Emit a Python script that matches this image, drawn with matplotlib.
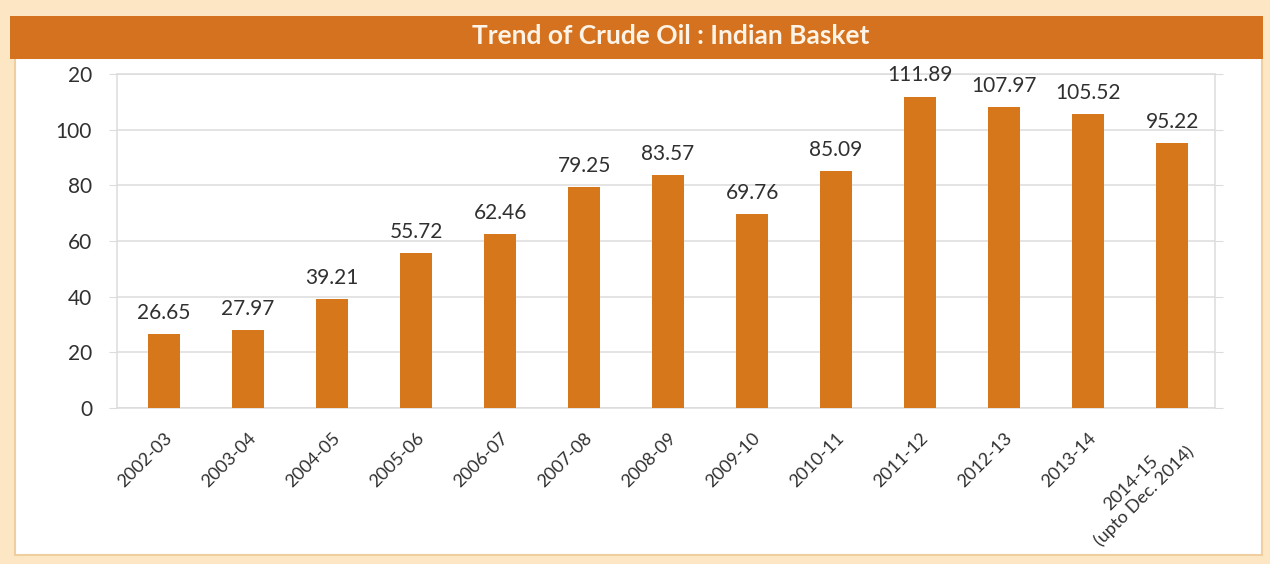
import matplotlib.pyplot as plt
import matplotlib.patches as patches

years = ["2002-03", "2003-04", "2004-05", "2005-06", "2006-07", "2007-08",
         "2008-09", "2009-10", "2010-11", "2011-12", "2012-13", "2013-14",
         "2014-15\n(upto Dec. 2014)"]
prices = [26.65, 27.97, 39.21, 55.72, 62.46, 79.25, 83.57, 69.76, 85.09,
          111.89, 107.97, 105.52, 95.22]
y_ticks = [0, 20, 40, 60, 80, 100, 120]
y_tick_labels = ["0", "20", "40", "60", "80", "100", "20"]

ORANGE = "#d4721f"
BAR = "#d6771c"
CREAM = "#fde6c4"
TEXT = "#303030"

plt.rcParams["font.family"] = ["Lato", "DejaVu Sans"]

fig = plt.figure(figsize=(12.7, 5.64), dpi=100, facecolor=CREAM)

# white card with the orange title band on top
fig.patches.append(patches.Rectangle((15 / 1270, 1 - 555 / 564), 1247 / 1270, 497 / 564,
                                     transform=fig.transFigure, facecolor="white",
                                     edgecolor="#efcf9f", linewidth=1.5, zorder=-2))
fig.patches.append(patches.Rectangle((10 / 1270, 1 - 59 / 564), 1253 / 1270, 43 / 564,
                                     transform=fig.transFigure, facecolor=ORANGE,
                                     edgecolor="none", zorder=-1))
fig.text(0.528, 1 - 36 / 564, "Trend of Crude Oil : Indian Basket", color="#fdf3e6",
         fontsize=19, fontweight="bold", ha="center", va="center")

ax = fig.add_axes([117 / 1270, 1 - 408 / 564, 1098 / 1270, 334 / 564])
ax.set_facecolor("white")
ax.set_zorder(2)

x = range(len(years))
bars = ax.bar(x, prices, width=0.38, color=BAR, zorder=3)
for rect, v in zip(bars, prices):
    ax.annotate(f"{v:.2f}", (rect.get_x() + rect.get_width() / 2, v),
                xytext=(0, 8), textcoords="offset points", ha="center", va="bottom",
                fontsize=15, color=TEXT)

ax.set_xlim(-0.56, 12.51)
ax.set_ylim(0, 120)
ax.set_yticks(y_ticks)
ax.set_yticklabels(y_tick_labels, fontsize=15, color=TEXT)
ax.set_xticks(list(x))
ax.set_xticklabels(years, rotation=45, ha="right", rotation_mode="anchor",
                   fontsize=13, color=TEXT, multialignment="center")

ax.grid(axis="y", color="#dcdcdc", linewidth=1.1, zorder=0)
ax.tick_params(axis="y", length=6, color="#dcdcdc", pad=12, right=True)
ax.tick_params(axis="x", length=0, pad=16)
for side in ["left", "right", "top", "bottom"]:
    ax.spines[side].set_color("#dcdcdc")
    ax.spines[side].set_linewidth(1.1)

fig.savefig("out.png", dpi=100, facecolor=CREAM)
